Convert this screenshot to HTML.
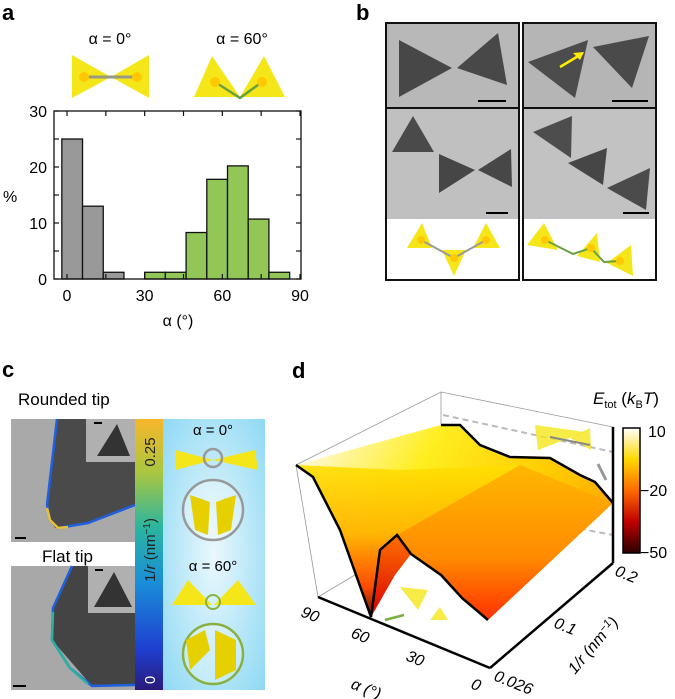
<!DOCTYPE html>
<html><head><meta charset="utf-8"><style>
html,body{margin:0;padding:0;background:#fff;}
svg{display:block;font-family:"Liberation Sans",sans-serif;}
</style></head><body>
<svg width="675" height="699" viewBox="0 0 675 699" xmlns="http://www.w3.org/2000/svg">
<defs>
 <linearGradient id="cbarC" x1="0" y1="1" x2="0" y2="0">
  <stop offset="0" stop-color="#2a1a7a"/><stop offset="0.15" stop-color="#1e3fd0"/><stop offset="0.4" stop-color="#1a8fd8"/>
  <stop offset="0.6" stop-color="#2bb5a0"/><stop offset="0.8" stop-color="#a9c640"/><stop offset="1" stop-color="#f7b62a"/>
 </linearGradient>
 <linearGradient id="cbarD" x1="0" y1="1" x2="0" y2="0">
  <stop offset="0" stop-color="#2a0000"/><stop offset="0.25" stop-color="#c00000"/><stop offset="0.5" stop-color="#ff6a00"/>
  <stop offset="0.75" stop-color="#ffd800"/><stop offset="1" stop-color="#ffffff"/>
 </linearGradient>
 <radialGradient id="blueBg" cx="0.5" cy="0.5" r="0.7">
  <stop offset="0" stop-color="#eaf8fd"/><stop offset="1" stop-color="#8fd9f4"/>
 </radialGradient>
 <linearGradient id="surfTop" x1="0" y1="0.3" x2="1" y2="0.7">
  <stop offset="0" stop-color="#fff8c8"/><stop offset="0.3" stop-color="#ffee20"/><stop offset="0.7" stop-color="#ffc800"/><stop offset="1" stop-color="#ff9a00"/>
 </linearGradient>
 <linearGradient id="surfLeft" x1="0" y1="0" x2="0" y2="1">
  <stop offset="0" stop-color="#ffe000"/><stop offset="0.45" stop-color="#ffb000"/><stop offset="0.8" stop-color="#ff3a00"/><stop offset="1" stop-color="#500000"/>
 </linearGradient>
 <linearGradient id="surfFront" x1="0" y1="0" x2="0" y2="1">
  <stop offset="0" stop-color="#ffb800"/><stop offset="0.6" stop-color="#ff8a00"/><stop offset="1" stop-color="#ff3000"/>
 </linearGradient>
 <linearGradient id="surfValley" x1="0" y1="0" x2="0" y2="1">
  <stop offset="0" stop-color="#ff7000"/><stop offset="1" stop-color="#d80000"/>
 </linearGradient>
</defs>

<!-- ===== Panel a ===== -->
<text x="2" y="20" font-size="22" font-weight="bold">a</text>
<text x="110" y="44" font-size="16" text-anchor="middle">α = 0°</text>
<text x="242" y="44" font-size="16" text-anchor="middle">α = 60°</text>
<g>
 <polygon points="72,55 72,98 111,77" fill="#f5e61a"/>
 <polygon points="149,55 149,98 111,77" fill="#f5e61a"/>
 <line x1="84" y1="77" x2="137" y2="77" stroke="#9a9a80" stroke-width="3"/>
 <circle cx="84" cy="77" r="5" fill="#ffc800"/><circle cx="137" cy="77" r="5" fill="#ffc800"/>
</g>
<g>
 <polygon points="212,56 194,97 240,97" fill="#f5e61a"/>
 <polygon points="264,56 240,97 285,97" fill="#f5e61a"/>
 <polyline points="215,82 240,98 262,82" fill="none" stroke="#6aa040" stroke-width="2.5"/>
 <circle cx="215" cy="82" r="5" fill="#ffc800"/><circle cx="262" cy="82" r="5" fill="#ffc800"/>
</g>
<g id="histA"></g>

<!-- ===== Panel b ===== -->
<text x="356" y="20" font-size="22" font-weight="bold">b</text>
<g>
 <rect x="386" y="23" width="133" height="257" fill="#fff" stroke="#111" stroke-width="2"/>
 <rect x="387" y="24" width="131" height="84" fill="#b8b8b8"/>
 <rect x="387" y="108" width="131" height="111" fill="#c0c0c0"/>
 <line x1="386" y1="108" x2="519" y2="108" stroke="#111" stroke-width="2"/>
 <polygon points="399,40 399,97 452,68" fill="#474747"/>
 <polygon points="457,68 498,33 507,85" fill="#484848"/>
 <rect x="478" y="100" width="28" height="2" fill="#000"/>
 <polygon points="413,116 392,152 434,152" fill="#4a4a4a"/>
 <polygon points="439,154 439,193 475,170" fill="#464646"/>
 <polygon points="478,170 511,149 512,187" fill="#474747"/>
 <rect x="486" y="212" width="22" height="2" fill="#000"/>
 <polygon points="422,223 407,248 432,248" fill="#f5e61a"/>
 <polygon points="486,223 473,248 500,248" fill="#f5e61a"/>
 <polygon points="442,250 454,276 466,250" fill="#f5e61a"/>
 <polyline points="421,240 454,258 486,240" fill="none" stroke="#999" stroke-width="2"/>
 <circle cx="421" cy="240" r="4" fill="#ffc800"/><circle cx="454" cy="258" r="4" fill="#ffc800"/><circle cx="486" cy="240" r="4" fill="#ffc800"/>
</g>
<g>
 <rect x="523" y="23" width="133" height="257" fill="#fff" stroke="#111" stroke-width="2"/>
 <rect x="524" y="24" width="131" height="84" fill="#b5b5b5"/>
 <rect x="524" y="108" width="131" height="111" fill="#c2c2c2"/>
 <line x1="523" y1="108" x2="656" y2="108" stroke="#111" stroke-width="2"/>
 <polygon points="528,62 588,40 575,98" fill="#4c4c4c"/>
 <polygon points="593,47 649,36 632,88" fill="#4a4a4a"/>
 <line x1="560" y1="67" x2="580" y2="55" stroke="#ffee00" stroke-width="2.5"/>
 <polygon points="584,52 573,53 580,60" fill="#ffee00"/>
 <rect x="612" y="100" width="36" height="2" fill="#000"/>
 <polygon points="533,132 572,116 571,158" fill="#4d4d4d"/>
 <polygon points="568,163 607,148 603,185" fill="#464646"/>
 <polygon points="607,188 650,168 646,210" fill="#4b4b4b"/>
 <rect x="623" y="212" width="26" height="2" fill="#000"/>
 <polygon points="544,223 527,245 558,250" fill="#f5e61a"/>
 <polygon points="597,233 577,256 600,262" fill="#f5e61a"/>
 <polygon points="631,245 607,263 633,276" fill="#f5e61a"/>
 <polyline points="545,240 573,254 591,248 604,262 620,261" fill="none" stroke="#6aa040" stroke-width="2"/>
 <circle cx="545" cy="240" r="4" fill="#ffc800"/><circle cx="591" cy="248" r="4" fill="#ffc800"/><circle cx="620" cy="261" r="4" fill="#ffc800"/>
</g>

<!-- ===== Panel c ===== -->
<text x="2" y="377" font-size="22" font-weight="bold">c</text>
<text x="18" y="405" font-size="17">Rounded tip</text>
<g>
 <rect x="11" y="419" width="124" height="123" fill="#a9a9a9"/>
 <polygon points="57,419 135,419 135,505 88,523 55,528 47,513" fill="#4a4a4a"/>
 <polyline points="57,419 47,505 50,520 58,528 88,523 135,505" fill="none" stroke="#1e60e0" stroke-width="2.5"/>
 <polyline points="47,508 50,520 58,528 68,527" fill="none" stroke="#e8c030" stroke-width="2.5"/>
 <rect x="86" y="419" width="49" height="43" fill="#b0b0b0"/>
 <polygon points="117,424 97,456 130,456" fill="#333"/>
 <rect x="15" y="537" width="11" height="2" fill="#000"/><rect x="94" y="422" width="8" height="2" fill="#000"/>
</g>
<text x="42" y="562" font-size="17">Flat tip</text>
<g>
 <rect x="11" y="566" width="124" height="124" fill="#a8a8a8"/>
 <polygon points="72,566 135,566 135,685 92,686 52,640 53,608" fill="#444"/>
 <polyline points="72,566 53,608 52,640 70,668 92,686 135,685" fill="none" stroke="#1e60e0" stroke-width="2.5"/>
 <polyline points="53,612 52,640 70,668 88,684" fill="none" stroke="#2ab0a0" stroke-width="2.5"/>
 <rect x="88" y="566" width="47" height="47" fill="#b0b0b0"/>
 <polygon points="114,572 94,607 132,607" fill="#333"/>
 <rect x="13" y="685" width="13" height="2" fill="#000"/><rect x="95" y="569" width="8" height="2" fill="#000"/>
</g>
<g>
 <rect x="135" y="419" width="28" height="271" fill="url(#cbarC)"/>
 <text transform="translate(155,452) rotate(-90)" font-size="15" text-anchor="middle" fill="#222">0.25</text>
 <text transform="translate(155,550) rotate(-90)" font-size="15" text-anchor="middle" fill="#222">1/<tspan font-style="italic">r</tspan> (nm<tspan dy="-5" font-size="10">−1</tspan><tspan dy="5">)</tspan></text>
 <text transform="translate(155,680) rotate(-90)" font-size="15" text-anchor="middle" fill="#fff">0</text>
</g>
<g>
 <rect x="163" y="419" width="102" height="271" fill="url(#blueBg)"/>
 <text x="213" y="435" font-size="15" text-anchor="middle">α = 0°</text>
 <polygon points="175,450 175,470 213,460" fill="#f5e61a"/><polygon points="255,450 258,470 213,460" fill="#f5e61a"/>
 <circle cx="213" cy="458" r="9" fill="none" stroke="#999" stroke-width="2.5"/>
 <circle cx="213" cy="510" r="30" fill="#fff" fill-opacity="0.3" stroke="#999" stroke-width="2.5"/>
 <polygon points="190,495 210,502 208,535 195,530" fill="#e6d000"/><polygon points="216,502 236,495 231,530 218,535" fill="#e6d000"/>
 <text x="213" y="571" font-size="15" text-anchor="middle">α = 60°</text>
 <polygon points="172,605 188,580 212,605" fill="#f5e61a"/><polygon points="214,605 238,580 256,605" fill="#f5e61a"/>
 <circle cx="213" cy="602" r="7" fill="none" stroke="#8ab040" stroke-width="2"/>
 <circle cx="213" cy="654" r="30" fill="#fff" fill-opacity="0.3" stroke="#8ab040" stroke-width="2.5"/>
 <polygon points="186,640 205,630 210,650 190,670" fill="#e6d000"/><polygon points="215,630 236,640 236,670 215,680" fill="#e6d000"/>
</g>

<!-- ===== Panel d ===== -->
<text x="292" y="378" font-size="22" font-weight="bold">d</text>
<g fill="none" stroke="#999" stroke-width="0.8">
 <polyline points="296,465 441,392 613,427"/>
 <line x1="441" y1="392" x2="441" y2="425"/>
 <line x1="296" y1="465" x2="318" y2="597"/>
 <line x1="318" y1="597" x2="380" y2="560"/>
</g>
<line x1="443" y1="415" x2="613" y2="452" stroke="#bbb" stroke-width="2" stroke-dasharray="6,4"/>
<line x1="560" y1="525" x2="613" y2="535" stroke="#bbb" stroke-width="2" stroke-dasharray="6,4"/>
<g>
 <polygon points="296,465 441,425 460,425 480,445 510,457 550,458 580,475 595,482 613,503 488,620 462,598 441,575 411,554 397,535 380,550 371,617 340,530 313,477" fill="url(#surfTop)"/>
 <polygon points="296,465 313,477 340,530 371,617 380,550 397,535 520,465 400,470" fill="url(#surfLeft)" opacity="0.9"/>
 <polygon points="371,617 380,550 397,535 411,554 395,575" fill="url(#surfValley)"/>
 <polygon points="397,535 520,465 613,503 488,620 462,598 441,575 411,554" fill="url(#surfFront)"/>
 <polyline points="296,465 313,477 340,530 371,617 380,550 397,535 411,554 441,575 462,598 488,620" fill="none" stroke="#000" stroke-width="2.5"/>
 <polyline points="441,425 460,425 480,445 510,457 550,458 580,475 595,482 613,503" fill="none" stroke="#000" stroke-width="2.5"/>
</g>
<g stroke="#000" stroke-width="2.5" fill="none">
 <line x1="318" y1="597" x2="490" y2="668"/>
 <line x1="490" y1="668" x2="613" y2="563"/>
 <line x1="613" y1="563" x2="613" y2="427"/>
</g>
<g>
 <polygon points="535,425 538,450 585,432" fill="#f5e61a" opacity="0.8"/>
 <polygon points="590,428 591,450 570,438" fill="#f5e61a" opacity="0.8"/>
 <line x1="550" y1="437" x2="590" y2="445" stroke="#888" stroke-width="2"/>
 <line x1="598" y1="464" x2="606" y2="480" stroke="#999" stroke-width="3"/>
</g>
<g>
 <polygon points="400,587 428,590 418,610" fill="#f5e61a" opacity="0.8"/>
 <polygon points="440,607 448,620 430,620" fill="#f5e61a" opacity="0.8"/>
 <line x1="404" y1="615" x2="385" y2="620" stroke="#7ab040" stroke-width="2.5"/>
</g>
<g font-size="16" font-style="italic">
 <text x="300" y="616" transform="rotate(22 300 616)">90</text>
 <text x="350" y="637" transform="rotate(22 350 637)">60</text>
 <text x="405" y="660" transform="rotate(22 405 660)">30</text>
 <text x="470" y="688" transform="rotate(22 470 688)">0</text>
 <text x="350" y="688" transform="rotate(22 350 688)">α (°)</text>
</g>
<g font-size="16" font-style="italic">
 <text x="493" y="680" transform="rotate(22 493 680)">0.026</text>
 <text x="553" y="627" transform="rotate(22 553 627)">0.1</text>
 <text x="614" y="575" transform="rotate(22 614 575)">0.2</text>
 <text x="575" y="675" transform="rotate(-50 575 675)">1/r (nm<tspan dy="-5" font-size="11">−1</tspan><tspan dy="5">)</tspan></text>
</g>
<text x="593" y="404" font-size="17"><tspan font-style="italic">E</tspan><tspan font-size="11" dy="4">tot</tspan><tspan dy="-4"> (</tspan><tspan font-style="italic">k</tspan><tspan font-size="11" dy="4">B</tspan><tspan dy="-4" font-style="italic">T</tspan>)</text>
<g>
 <rect x="623" y="428" width="17" height="125" fill="url(#cbarD)" stroke="#000" stroke-width="1.5"/>
 <text x="648" y="437" font-size="16">10</text>
 <text x="640" y="496" font-size="16">−20</text>
 <text x="640" y="558" font-size="16">−50</text>
</g>

<script>
const binStarts = [-2, 6, 14, 22, 30, 38, 46, 54, 62, 70, 78];
const percentValues = [25, 13, 1.2, 0, 1.2, 1.2, 8.3, 17.8, 20.2, 10.7, 1.2];
const groupFlags = ['gray','gray','gray','gray','green','green','green','green','green','green','green'];
const binWidth = 8;
const xTicks = [0, 30, 60, 90];
const yTicks = [0, 10, 20, 30];
const NS = 'http://www.w3.org/2000/svg';
const X0 = 67, X90 = 300, Y0 = 279, Y30 = 111;
function xs(v){ return X0 + (v/90)*(X90-X0); }
function ys(v){ return Y0 - (v/30)*(Y0-Y30); }
const g = document.getElementById('histA');
function mk(tag, attrs){ const e = document.createElementNS(NS, tag); for (const k in attrs) e.setAttribute(k, attrs[k]); g.appendChild(e); return e; }
binStarts.forEach((b,i)=>{
  if (percentValues[i] <= 0) return;
  const r = mk('rect', {x: xs(b), y: ys(percentValues[i]), width: xs(b+binWidth)-xs(b), height: ys(0)-ys(percentValues[i]),
    fill: groupFlags[i]==='gray' ? '#999999' : '#92c657', stroke: '#111', 'stroke-width': 1.3});
  
  
});
const frame = mk('rect', {x: 54, y: Y30, width: 247, height: Y0-Y30, fill: 'none', stroke: '#111', 'stroke-width': 1.3});


for (let v=0; v<=90; v+=15){
  mk('line', {x1: xs(v), x2: xs(v), y1: Y30, y2: Y30+5, stroke:'#111', 'stroke-width':1.2});
  mk('line', {x1: xs(v), x2: xs(v), y1: Y0, y2: Y0-5, stroke:'#111', 'stroke-width':1.2});
}
for (let v=0; v<=30; v+=5){
  mk('line', {x1: 54, x2: 59, y1: ys(v), y2: ys(v), stroke:'#111', 'stroke-width':1.2});
  mk('line', {x1: 301, x2: 296, y1: ys(v), y2: ys(v), stroke:'#111', 'stroke-width':1.2});
}
xTicks.forEach(v=>{
  const t = mk('text', {x: xs(v), y: 301, 'font-size': 16, 'text-anchor': 'middle'});
  t.textContent = v;
  
  
});
yTicks.forEach(v=>{
  const t = mk('text', {x: 47, y: ys(v)+6, 'font-size': 16, 'text-anchor': 'end'});
  t.textContent = v;
  
  
});
const xl = mk('text', {x: 178, y: 326, 'font-size': 16, 'text-anchor': 'middle'});
xl.textContent = 'α (°)';


const yl = mk('text', {x: 3, y: 202, 'font-size': 16});
yl.textContent = '%';


</script>
</svg>
</body></html>
